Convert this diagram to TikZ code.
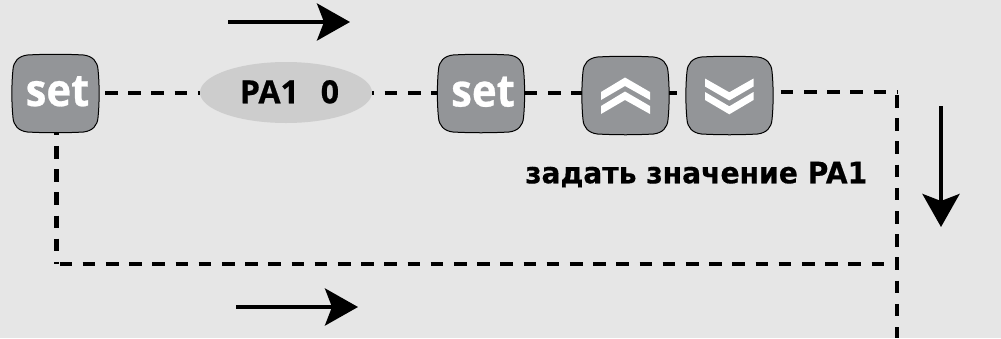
\documentclass[tikz,border=0pt]{standalone}
\usepackage{fontspec}
\usetikzlibrary{arrows.meta,shapes.geometric}
\setmainfont{Open Sans}[BoldFeatures={FakeBold=0.6}]
\newfontfamily\btnfont{Open Sans}[BoldFeatures={FakeBold=0.6,FakeStretch=0.93}]
\newfontfamily\capfont{DejaVu Sans}[BoldFeatures={FakeBold=0.4,FakeStretch=0.955}]
\definecolor{bgc}{HTML}{E6E6E6}
\definecolor{btn}{HTML}{939598}
\definecolor{ell}{HTML}{CDCDCD}
\tikzset{
  dashline/.style={line width=4.5pt,dash pattern=on 12.6pt off 10.6pt},
  flow/.style={line width=4pt,-{Stealth[length=33pt,width=37pt,inset=7pt]}},
  btnlabel/.style={inner sep=0pt,text=white,anchor=base,font=\btnfont\fontsize{45}{45}\selectfont\bfseries},
  btnanchor/.style={minimum width=87pt,minimum height=77pt,inner sep=0pt},
}
% squircle button: centre x, centre y, node name
\newcommand{\squirclebtn}[3]{%
  \draw[black,line width=1pt,fill=btn]
    (#1-28,#2-38.5) .. controls (#1-10,#2-39.5) and (#1+10,#2-39.5) .. (#1+28,#2-38.5)
    .. controls (#1+37,#2-37.5) and (#1+42,#2-32) .. (#1+42.5,#2-24)
    .. controls (#1+44,#2-10) and (#1+44,#2+10) .. (#1+42.5,#2+24)
    .. controls (#1+42,#2+32) and (#1+37,#2+37.5) .. (#1+28,#2+38.5)
    .. controls (#1+10,#2+39.5) and (#1-10,#2+39.5) .. (#1-28,#2+38.5)
    .. controls (#1-37,#2+37.5) and (#1-42,#2+32) .. (#1-42.5,#2+24)
    .. controls (#1-44,#2+10) and (#1-44,#2-10) .. (#1-42.5,#2-24)
    .. controls (#1-42,#2-32) and (#1-37,#2-37.5) .. (#1-28,#2-38.5) -- cycle;
  \node[btnanchor] (#3) at (#1,#2) {};
}
\begin{document}
\begin{tikzpicture}[x=1pt,y=-1pt]
\useasboundingbox (0,0) rectangle (1001,338);
\fill[bgc] (0,0) rectangle (1001,338);
% shapes
\squirclebtn{55.5}{93.5}{seta}
\node[ellipse,fill=ell,minimum width=172pt,minimum height=61pt,inner sep=0pt] (pa) at (286,92.5) {};
\squirclebtn{481}{93.5}{setb}
\squirclebtn{625.5}{95.5}{up}
\squirclebtn{729.5}{95.5}{down}
\node[btnlabel] (seta label) at (57.5,106) {set};
\node[btnlabel] (setb label) at (483,106.5) {set};
\node[inner sep=0pt,anchor=base,font=\fontsize{32}{32}\selectfont\bfseries] (pa label) at (289.5,103.3) {PA1\hspace{22pt}0};
% chevrons
\fill[white] (601,92) -- (625,77.5) -- (650,92) -- (650,100) -- (625,86) -- (601,100) -- cycle;
\fill[white] (601,106) -- (625,91.5) -- (650,106) -- (650,114) -- (625,100) -- (601,114) -- cycle;
\fill[white] (705,78.5) -- (729.3,92.3) -- (753.5,78.5) -- (753.5,86.5) -- (729.3,100.5) -- (705,86.5) -- cycle;
\fill[white] (705,92) -- (729.3,106.3) -- (753.5,92) -- (753.5,100) -- (729.3,114.3) -- (705,100) -- cycle;
% caption
\node[anchor=base west,inner sep=0pt,font=\capfont\fontsize{29.5}{29.5}\selectfont\bfseries] (caption) at (525,183.3) {задать значение PA1};
% free ends
\coordinate (tr) at (897,92);
\coordinate (trb) at (897,95);
\coordinate (rb) at (897,338);
\coordinate (bl) at (56.5,264);
\coordinate (br) at (890,264);
\coordinate (a1s) at (228,22);
\coordinate (a1e) at (350,22);
\coordinate (a2s) at (236,307);
\coordinate (a2e) at (358,307);
\coordinate (a3s) at (941,106);
\coordinate (a3e) at (941,227);
\coordinate (s1) at (105,93);
\coordinate (u1) at (669,93);
\coordinate (s2) at (56.5,132);
% connectors
\draw[dashline] (s1) -- (pa.west |- s1);
\draw[dashline,dash phase=10.7] (pa.east |- s1) -- (setb.west |- s1);
\draw[dashline] (setb.east |- s1) -- (up.west |- s1);
\draw[dashline,dash phase=4.8] (u1) -- (down.west |- s1);
\draw[dashline,dash phase=15.6] (down.east |- tr) -- (tr);
\draw[dashline] (trb) -- (rb);
\draw[dashline,dash phase=9.3] (s2) -- (bl);
\draw[dashline,dash phase=20.2] (bl) -- (br);
% arrows
\draw[flow] (a1s) -- (a1e);
\draw[flow] (a2s) -- (a2e);
\draw[flow] (a3s) -- (a3e);
\end{tikzpicture}
\end{document}
